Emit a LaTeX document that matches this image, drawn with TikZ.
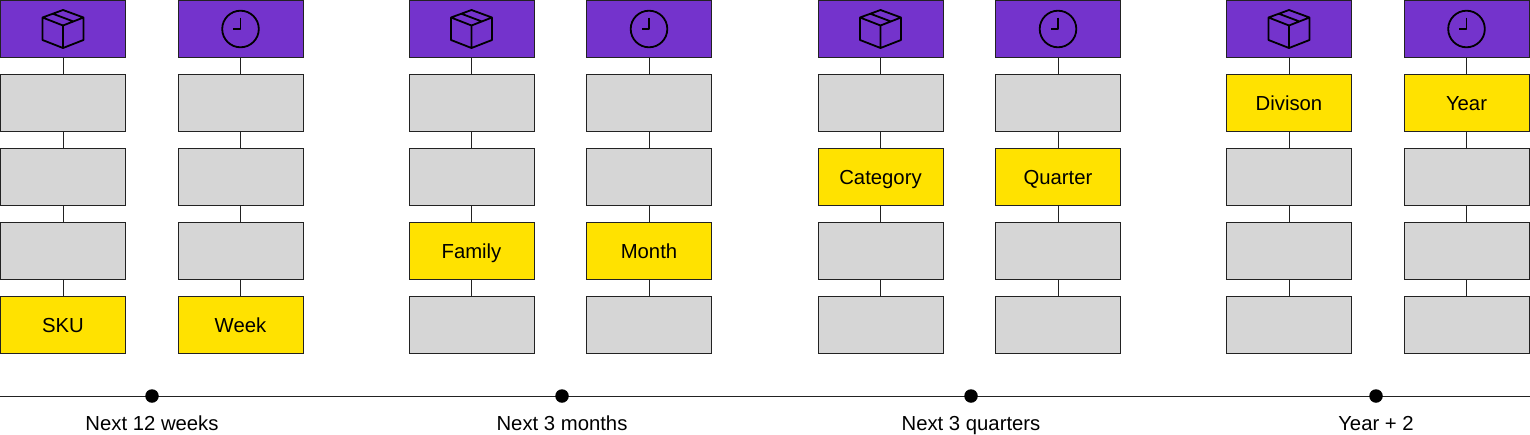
\documentclass[tikz,border=0pt]{standalone}
\usepackage{fontspec}
\setmainfont{Liberation Sans}
\usepackage{xcolor}
\definecolor{boxpurple}{HTML}{7433CC}
\definecolor{boxgrey}{HTML}{D6D6D6}
\definecolor{boxyellow}{HTML}{FFE200}
\definecolor{lineblack}{HTML}{222222}
\begin{document}
\begin{tikzpicture}[x=1pt,y=-1pt,
  cell/.style = {draw=lineblack,line width=1pt,minimum width=125pt,minimum height=57pt,
        inner sep=0pt,align=center,text height=15pt,text depth=0pt,
        font=\fontsize{20.3}{24}\selectfont},
  head/.style = {cell,fill=boxpurple},
  blank/.style = {cell,fill=boxgrey},
  level/.style = {cell,fill=boxyellow},
  link/.style = {draw=lineblack,line width=1pt},
  icon/.style = {draw=black,line width=1.8pt,line join=round},
  tick/.style = {circle,fill=black,inner sep=0pt,minimum size=13.5pt},
  span/.style = {text height=15pt,text depth=0pt,font=\fontsize{20.3}{24}\selectfont},
  boxicon/.pic = {
    \draw[icon] (0,-19) -- (20.5,-11.5) -- (0,-3.5) -- (-20.5,-11.5) -- cycle
        (-20.5,-11.5) -- (-20.5,11) -- (0,19) -- (20.5,11) -- (20.5,-11.5)
        (0,-3.5) -- (0,19)
        (-10,-15.2) -- (10.5,-7.5);},
  clockicon/.pic = {
    \draw[icon] (0,0) circle (18.3);
    \draw[icon] (0,-11.5) -- (0,0) -- (-7.5,0);}]
 \useasboundingbox (0,0) rectangle (1530,434);

 % columns: number/x position/yellow row/label
 \foreach \c/\xc/\r/\lab in {1/63/5/SKU,2/240.5/5/Week,3/471.5/4/Family,4/649/4/Month,
        5/880.5/3/Category,6/1058/3/Quarter,7/1289/2/Divison,8/1466.5/2/Year} {
  \node[head] (c\c r1) at(\xc,28.5) {};
  \foreach \n/\p/\yc in {2/1/102.5,3/2/176.5,4/3/250.5,5/4/324.5} {
   \ifnum\n=\r
    \node[level] (c\c r\n) at(\xc,\yc) {\lab};
   \else
    \node[blank] (c\c r\n) at(\xc,\yc) {};
   \fi
   \path[link] (c\c r\p) -- (c\c r\n);
  }
 }

 \foreach \c/\xc in {1/63,3/471.5,5/880.5,7/1289}
  \pic at (\xc,29) {boxicon};
 \foreach \c/\xc in {2/240.5,4/649,6/1058,8/1466.5}
  \pic at (\xc,29) {clockicon};

 \coordinate (axis0) at (0,396);
 \coordinate (axis1) at (1530,396);
 \path[link] (axis0) -- (axis1);

 \node[tick] (t1) at(152,396) {};
 \node[tick] (t2) at(562,396) {};
 \node[tick] (t3) at(971,396) {};
 \node[tick] (t4) at(1376,396) {};

 \node[span] (l1) at(152,422.5) {Next 12 weeks};
 \node[span] (l2) at(562,422.5) {Next 3 months};
 \node[span] (l3) at(971,422.5) {Next 3 quarters};
 \node[span] (l4) at(1376,422.5) {Year + 2};
\end{tikzpicture}
\end{document}
